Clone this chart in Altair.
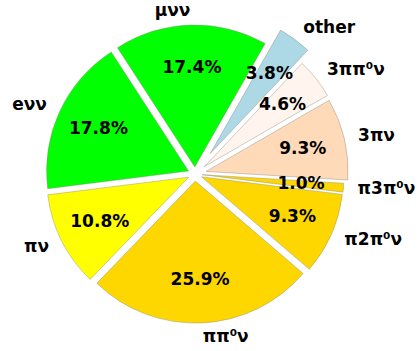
import math
import altair as alt
import pandas as pd

# Tau decay branching fractions (%), listed clockwise from the top
labels = ["μνν", "other", "3ππ⁰ν", "3πν", "π3π⁰ν", "π2π⁰ν", "ππ⁰ν", "πν", "eνν"]
values = [17.4, 3.8, 4.6, 9.3, 1.0, 9.3, 25.9, 10.8, 17.8]
colors = ["#00FF00", "#ADD8E6", "#FFF5EE", "#FFDAB9", "#FFD700",
          "#FFD700", "#FFD700", "#FFFF00", "#00FF00"]
# radial offset of each wedge, as a fraction of the radius
explode = [0.05, 0.18, 0.085, 0.08, 0.05, 0.05, 0.05, 0.05, 0.05]

W, H = 419, 351
CX, CY, R = 195, 174, 142
START = math.radians(-33)   # clockwise from 12 o'clock
LABEL_DIST, PCT_DIST = 1.1, 0.7

df = pd.DataFrame({
    "label": labels,
    "value": values,
    "color": colors,
    "explode": explode,
    "order": list(range(len(labels))),
})

base = alt.Chart(df).transform_joinaggregate(
    total="sum(value)"
).transform_window(
    cum="sum(value)", sort=[alt.SortField("order")],
    frame=[None, 0]
).transform_calculate(
    t1=f"{START} + 2*PI*datum.cum/datum.total",
    t0=f"{START} + 2*PI*(datum.cum - datum.value)/datum.total",
).transform_calculate(
    mid="(datum.t0 + datum.t1)/2",
    d=f"datum.explode*{R}",
).transform_calculate(
    wx=f"{CX} + datum.d*sin(datum.mid)",
    wy=f"{CY} - datum.d*cos(datum.mid)",
    lx=f"{CX} + (datum.d + {LABEL_DIST}*{R})*sin(datum.mid)",
    ly=f"{CY} - (datum.d + {LABEL_DIST}*{R})*cos(datum.mid)",
    px=f"{CX} + (datum.d + {PCT_DIST}*{R})*sin(datum.mid)",
    py=f"{CY} - (datum.d + {PCT_DIST}*{R})*cos(datum.mid)",
    pct="format(datum.value, '.1f') + '%'",
    side="sin(datum.mid) >= 0 ? 'right' : 'left'",
)

wedges = base.mark_arc(
    outerRadius=R, stroke="#8a8a7a", strokeWidth=0.6, strokeOpacity=0.7
).encode(
    x=alt.X("wx:Q", scale=None),
    y=alt.Y("wy:Q", scale=None),
    theta=alt.Theta("t0:Q", scale=None, stack=None),
    theta2="t1:Q",
    color=alt.Color("color:N", scale=None),
)

font = dict(font="DejaVu Sans", fontWeight="bold", fontSize=17, color="black")

pcts = base.mark_text(align="center", baseline="middle", **font).encode(
    x=alt.X("px:Q", scale=None),
    y=alt.Y("py:Q", scale=None),
    text="pct:N",
)

names_right = base.transform_filter("datum.side == 'right'").mark_text(
    align="left", baseline="middle", **font
).encode(
    x=alt.X("lx:Q", scale=None),
    y=alt.Y("ly:Q", scale=None),
    text="label:N",
)

names_left = base.transform_filter("datum.side == 'left'").mark_text(
    align="right", baseline="middle", **font
).encode(
    x=alt.X("lx:Q", scale=None),
    y=alt.Y("ly:Q", scale=None),
    text="label:N",
)

chart = alt.layer(wedges, pcts, names_right, names_left).properties(
    width=W, height=H, autosize=alt.AutoSizeParams(type="none"), padding=0,
    background="white",
).configure_view(stroke=None)

chart.save("out.html", embed_options={"renderer": "svg", "actions": False})
